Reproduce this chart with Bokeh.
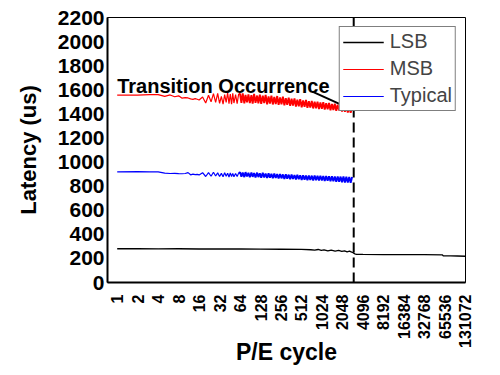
from bokeh.plotting import figure
from bokeh.models import (Range1d, FixedTicker, NumeralTickFormatter, Span, Label,
                          Arrow, NormalHead, Legend, LegendItem)
from bokeh.embed import file_html
from bokeh.resources import INLINE

# ---------------- data ----------------
x_ticks = [1, 2, 4, 8, 16, 32, 64, 128, 256, 512, 1024, 2048, 4096, 8192,
           16384, 32768, 65536, 131072]
y_ticks = [0, 200, 400, 600, 800, 1000, 1200, 1400, 1600, 1800, 2000, 2200]

# P/E cycles sampled for MSB and Typical (MLC mode, before transition)
# early life (sparse samples)
early_cycles = [1, 2, 3, 4, 5, 6, 7, 8, 9, 10, 11, 12, 13, 14, 15, 16, 18, 20, 22, 24,
                26, 28, 30, 32, 34, 36, 38, 40, 42, 44, 46, 48, 50, 52, 55, 58, 61]
msb_early = [1555, 1556, 1560, 1560, 1545, 1557, 1542, 1550, 1530, 1535, 1532, 1524,
             1520, 1526, 1521, 1515, 1540, 1490, 1555, 1500, 1568, 1495, 1570, 1488,
             1545, 1480, 1560, 1495, 1575, 1485, 1565, 1480, 1570, 1490, 1560, 1485,
             1565]
typical_early = [918, 920, 918, 919, 908, 905, 906, 904, 903, 905, 912, 894, 900, 896,
                 898, 893, 912, 880, 912, 882, 915, 884, 910, 880, 906, 878, 912, 882,
                 908, 876, 910, 880, 906, 878, 905, 880, 908]

# later life (dense, noisy band)
late_cycles = [64, 67, 70, 74, 77, 81, 85, 89, 94, 98, 103, 108, 114, 119, 125, 131,
               138, 145, 152, 160, 168, 176, 185, 194, 204, 214, 225, 236, 248, 260,
               273, 287, 301, 316, 332, 349, 366, 384, 404, 424, 445, 467, 490, 515,
               541, 568, 596, 626, 657, 690, 725, 761, 799, 839, 881, 925, 971, 1020,
               1071, 1124, 1181, 1240, 1302, 1367, 1435, 1507, 1582, 1661, 1744, 1832,
               1923, 2019, 2120, 2226, 2338, 2455, 2577, 2706, 2841]
msb_late = [1565, 1492, 1570, 1488, 1558, 1495, 1562, 1490, 1555, 1485, 1566, 1492,
            1552, 1487, 1560, 1483, 1550, 1490, 1557, 1480, 1545, 1486, 1552, 1478,
            1540, 1482, 1548, 1475, 1536, 1480, 1542, 1470, 1530, 1476, 1535, 1466,
            1525, 1470, 1528, 1460, 1518, 1462, 1522, 1455, 1512, 1458, 1515, 1450,
            1506, 1452, 1508, 1445, 1500, 1447, 1502, 1440, 1495, 1442, 1496, 1436,
            1488, 1437, 1490, 1430, 1482, 1432, 1484, 1425, 1476, 1427, 1475, 1420,
            1468, 1418, 1465, 1412, 1458, 1410, 1450]
typical_late = [915, 878, 912, 875, 916, 880, 910, 874, 913, 877, 909, 872, 912, 875,
                907, 870, 910, 873, 905, 868, 906, 870, 902, 866, 904, 868, 900, 863,
                901, 865, 897, 860, 898, 862, 895, 858, 896, 860, 892, 855, 894, 857,
                890, 852, 891, 854, 888, 850, 889, 851, 887, 848, 888, 849, 885, 846,
                886, 847, 884, 843, 885, 844, 882, 840, 883, 841, 880, 837, 881, 836,
                879, 833, 880, 831, 878, 829, 877, 828, 876]

# LSB over the whole lifetime (continues as SLC after transition)
lsb_cycles = [1, 2, 4, 8, 16, 32, 64, 128, 256, 512, 700, 800, 900, 1000, 1100, 1250,
              1400, 1600, 1800, 2000, 2200, 2400, 2600, 2800, 2900, 3000, 3100, 3300,
              4096, 8192, 16384, 32768, 60000, 62000, 80000, 100000, 131072]
lsb_latency = [280, 280, 279, 280, 278, 279, 278, 277, 276, 275, 272, 268, 274, 266,
               271, 263, 269, 261, 266, 258, 263, 255, 260, 252, 250, 244, 238, 234,
               233, 232, 232, 231, 230, 222, 221, 220, 218]

transition_cycle = 3000

FONT = "Liberation Sans"

# ---------------- figure ----------------
p = figure(width=484, height=367, x_axis_type="log",
           x_range=Range1d(0.72, 132000), y_range=Range1d(0, 2200),
           output_backend="svg", toolbar_location=None,
           min_border_left=107, min_border_right=19, min_border_top=17,
           min_border_bottom=84)

p.outline_line_color = "black"
p.outline_line_width = 1
p.xgrid.visible = False
p.ygrid.visible = False
p.background_fill_color = "white"
p.border_fill_color = "white"

# dashed transition line (added before legend so legend covers it)
p.add_layout(Span(location=transition_cycle, dimension="height", line_color="black",
                  line_width=2, line_dash="10 5"))

r_lsb = p.line(lsb_cycles, lsb_latency, line_color="black", line_width=1.3)
r_msb = p.line(early_cycles, msb_early, line_color="red", line_width=1.2)
p.line(early_cycles[-1:] + late_cycles, msb_early[-1:] + msb_late,
       line_color="red", line_width=1.9)
r_typ = p.line(early_cycles, typical_early, line_color="blue", line_width=1.2)
p.line(early_cycles[-1:] + late_cycles, typical_early[-1:] + typical_late,
       line_color="blue", line_width=1.9)

legend = Legend(items=[LegendItem(label="LSB", renderers=[r_lsb]),
                       LegendItem(label="MSB", renderers=[r_msb]),
                       LegendItem(label="Typical", renderers=[r_typ])],
                location="top_right", margin=9, padding=3, spacing=4,
                glyph_width=41, glyph_height=20, label_height=20, label_standoff=6,
                label_text_font=FONT, label_text_font_size="20px",
                border_line_color="black", border_line_width=1,
                background_fill_color="white", background_fill_alpha=1.0)
p.add_layout(legend)

p.add_layout(Label(x=1.0, y=1630, text="Transition Occurrence", text_font=FONT,
                   text_font_style="bold", text_font_size="20px",
                   text_baseline="alphabetic", text_color="black"))
p.add_layout(Arrow(x_start=740, y_start=1585, x_end=2950, y_end=1431,
                   line_color="black", line_width=2,
                   end=NormalHead(size=10, fill_color="black", line_color="black")))

# axes
xa = p.xaxis[0]
xa.ticker = FixedTicker(ticks=x_ticks)
xa.formatter = NumeralTickFormatter(format="0")
xa.major_label_orientation = 3.14159265 / 2
xa.major_label_text_font = FONT
xa.major_label_text_font_style = "bold"
xa.major_label_text_font_size = "16px"
xa.major_label_standoff = 12
xa.axis_label = "P/E cycle"
xa.axis_label_text_font = FONT
xa.axis_label_text_font_style = "bold"
xa.axis_label_text_font_size = "23px"
xa.axis_label_standoff = -12

ya = p.yaxis[0]
ya.ticker = FixedTicker(ticks=y_ticks)
ya.major_label_text_font = FONT
ya.major_label_text_font_style = "bold"
ya.major_label_text_font_size = "21px"
ya.major_label_standoff = 3
ya.axis_label = "Latency (us)"
ya.axis_label_text_font = FONT
ya.axis_label_text_font_style = "bold"
ya.axis_label_text_font_size = "22px"
ya.axis_label_standoff = 14

for ax in (xa, ya):
    ax.major_tick_out = 0
    ax.major_tick_in = 0
    ax.minor_tick_out = 0
    ax.minor_tick_in = 0
    ax.axis_line_width = 2
    ax.axis_line_color = "black"
    ax.major_label_text_color = "black"
    ax.axis_label_text_color = "black"

open("out.html", "w").write(file_html(p, INLINE))
